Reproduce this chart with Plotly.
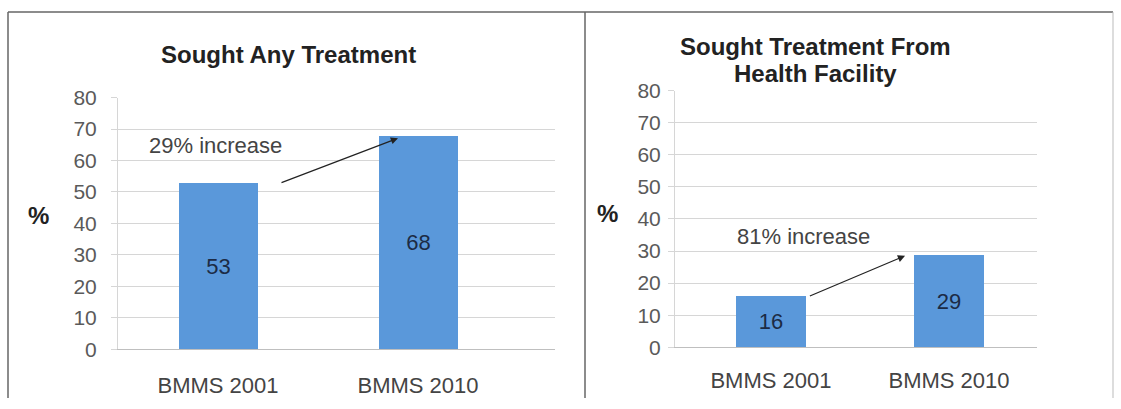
import plotly.graph_objects as go

categories = ["BMMS 2001", "BMMS 2010"]
any_treatment = [53, 68]
facility_treatment = [16, 29]
y_ticks = [0, 10, 20, 30, 40, 50, 60, 70, 80]
left_title = "Sought Any Treatment"
right_title_lines = ["Sought Treatment From", "Health Facility"]
left_note = "29% increase"
right_note = "81% increase"

W, H = 1121, 409
BAR = "#5A98DA"
FONT = "Liberation Sans, Arial, sans-serif"

fig = go.Figure()
fig.add_trace(go.Bar(x=categories, y=any_treatment, text=[str(v) for v in any_treatment],
                     textposition="inside", insidetextanchor="middle",
                     textfont=dict(size=22, color="#1c2b45", family=FONT),
                     marker=dict(color=BAR, line=dict(width=0)), width=0.395,
                     xaxis="x", yaxis="y", showlegend=False))
fig.add_trace(go.Bar(x=categories, y=facility_treatment, text=[str(v) for v in facility_treatment],
                     textposition="inside", insidetextanchor="middle",
                     textfont=dict(size=22, color="#1c2b45", family=FONT),
                     marker=dict(color=BAR, line=dict(width=0)), width=0.393,
                     xaxis="x2", yaxis="y2", showlegend=False))

def px(x):
    return x / W

# the captured page appears vertically offset/compressed; map a target pixel row to paper y
def py(y):
    y_in = (y - 9.9) / 0.949
    return (H - y_in) / H

ycommon = dict(showgrid=True, gridcolor="#d6d6d6", gridwidth=1, zeroline=False,
               tickfont=dict(size=21, color="#5a5a5a", family=FONT),
               tickvals=y_ticks, range=[0, 80], ticks="outside", ticklen=6,
               tickcolor="#d6d6d6", showline=True, linecolor="#d6d6d6")
xcommon = dict(type="category", showgrid=False, zeroline=False, showline=True,
               linecolor="#bfbfbf", ticks="",
               tickfont=dict(size=22, color="#444444", family=FONT))

fig.update_layout(
    width=W, height=H, margin=dict(l=0, r=0, t=0, b=0),
    paper_bgcolor="white", plot_bgcolor="white",
    font=dict(family=FONT),
    xaxis=dict(domain=[px(118), px(555)], range=[-0.5, 1.685], anchor="y",
               ticklabelstandoff=16, **xcommon),
    yaxis=dict(domain=[py(349), py(96)], anchor="x", ticklabelstandoff=10, **ycommon),
    xaxis2=dict(domain=[px(675), px(1037)], range=[-0.539, 1.494], anchor="y2",
                ticklabelstandoff=13, **xcommon),
    yaxis2=dict(domain=[py(347), py(89)], anchor="x2", ticklabelstandoff=3, **ycommon),
    bargap=0,
)

def centered(**kw):
    d = dict(xanchor="center", yanchor="middle", showarrow=False)
    d.update(kw)
    return d

title_font = dict(size=24, color="#222222", family=FONT)
annotations = [
    centered(text=f"<b>{left_title}</b>", x=px(288), y=py(53), xref="paper", yref="paper",
             font=title_font),
    centered(text=f"<b>{right_title_lines[0]}</b>", x=px(815), y=py(45), xref="paper", yref="paper",
             font=title_font),
    centered(text=f"<b>{right_title_lines[1]}</b>", x=px(815), y=py(72), xref="paper", yref="paper",
             font=title_font),
    centered(text="<b>%</b>", x=px(38), y=py(215), xref="paper", yref="paper",
             font=dict(size=24, color="#222222", family=FONT)),
    centered(text="<b>%</b>", x=px(607), y=py(213), xref="paper", yref="paper",
             font=dict(size=24, color="#222222", family=FONT)),
    centered(text=left_note, x=-0.015, y=64.8, xref="x", yref="y",
             font=dict(size=22, color="#444444", family=FONT)),
    centered(text=right_note, x=0.185, y=34.4, xref="x2", yref="y2",
             font=dict(size=22, color="#444444", family=FONT)),
    dict(x=0.9, y=67.1, ax=0.31, ay=52.8, xref="x", yref="y", axref="x", ayref="y",
         showarrow=True, arrowhead=2, arrowsize=1.2, arrowwidth=1.2, arrowcolor="#222222", text=""),
    dict(x=0.753, y=28.5, ax=0.21, ay=15.8, xref="x2", yref="y2", axref="x2", ayref="y2",
         showarrow=True, arrowhead=2, arrowsize=1.2, arrowwidth=1.2, arrowcolor="#222222", text=""),
]
fig.update_layout(annotations=annotations)

line_style = dict(color="#666666", width=1.5)
shapes = [
    dict(type="line", xref="paper", yref="paper", x0=px(8), x1=px(1113), y0=py(10), y1=py(10), line=line_style),
    dict(type="line", xref="paper", yref="paper", x0=px(8), x1=px(8), y0=py(10), y1=0, line=line_style),
    dict(type="line", xref="paper", yref="paper", x0=px(585), x1=px(585), y0=py(10), y1=0, line=line_style),
    dict(type="line", xref="paper", yref="paper", x0=px(1113), x1=px(1113), y0=py(10), y1=0, line=dict(color="#bbbbbb", width=1)),
]
fig.update_layout(shapes=shapes)

fig.write_html("out.html")
